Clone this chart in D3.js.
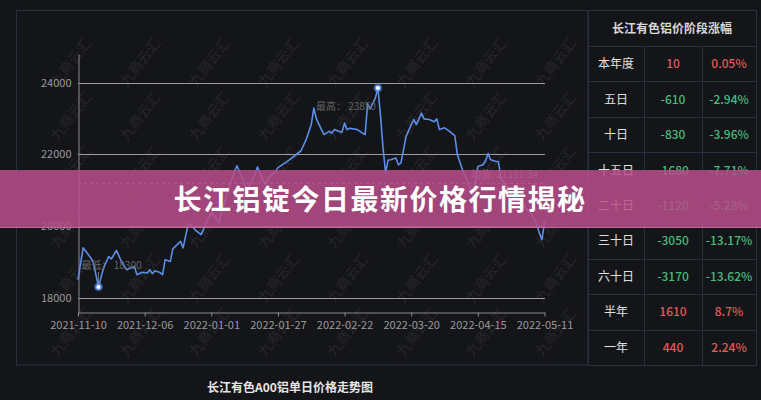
<!DOCTYPE html>
<html><head><meta charset="utf-8">
<script src="https://cdn.jsdelivr.net/npm/d3@7/dist/d3.min.js"></script>
<style>
html,body{margin:0;padding:0;background:#141518;}
svg{display:block;}
</style></head>
<body>
<svg id="c" width="761" height="400"></svg>
<script>
const dates = ["2021-11-10","2021-11-12","2021-11-15","2021-11-16","2021-11-18","2021-11-20","2021-11-22","2021-11-23","2021-11-25","2021-11-27","2021-11-29",
"2021-12-02","2021-12-03","2021-12-05","2021-12-07","2021-12-08","2021-12-09","2021-12-10","2021-12-12","2021-12-13","2021-12-14","2021-12-16","2021-12-17","2021-12-20","2021-12-21","2021-12-23","2021-12-24","2021-12-26","2021-12-28",
"2022-01-01","2022-01-04","2022-01-05","2022-01-07","2022-01-10","2022-01-11","2022-01-13","2022-01-15","2022-01-16","2022-01-18","2022-01-19","2022-01-21","2022-01-22","2022-01-24","2022-01-26","2022-01-27","2022-01-30",
"2022-02-02","2022-02-05","2022-02-07","2022-02-09","2022-02-10","2022-02-11","2022-02-13","2022-02-14","2022-02-16","2022-02-17","2022-02-18","2022-02-20","2022-02-21","2022-02-22","2022-02-23","2022-02-24","2022-02-27",
"2022-03-01","2022-03-02","2022-03-03","2022-03-04","2022-03-06","2022-03-07","2022-03-08","2022-03-09","2022-03-10","2022-03-11","2022-03-12","2022-03-14","2022-03-15","2022-03-16","2022-03-18","2022-03-20","2022-03-21","2022-03-22","2022-03-24","2022-03-25","2022-03-27","2022-03-29","2022-03-30","2022-03-31",
"2022-04-02","2022-04-04","2022-04-06","2022-04-07","2022-04-09","2022-04-11","2022-04-13","2022-04-15","2022-04-17","2022-04-18","2022-04-19","2022-04-20","2022-04-22","2022-04-23","2022-04-24","2022-04-26","2022-04-28","2022-04-30",
"2022-05-02","2022-05-04","2022-05-06","2022-05-08","2022-05-09","2022-05-10","2022-05-11"];
const prices = [18500,19390,19110,18980,18300,18840,19150,19080,19320,19000,18780,
18870,18640,18710,18690,18780,18670,18750,18700,18640,19060,19010,19360,19570,19390,20060,20040,19870,19760,
20380,20100,20370,20870,21510,21680,21350,21010,21150,21430,21650,21290,21180,21400,21510,21630,21770,
21930,22100,22410,22830,23290,22990,22690,22550,22640,22590,22690,22640,22620,22870,22690,22730,22690,
22590,22550,23410,23270,23570,23850,23100,22180,21490,21840,21850,21900,21710,21760,22500,22830,22970,22830,23150,22990,22970,22910,22990,22690,
22740,22640,22520,21990,21570,21240,20850,21660,21710,21820,22020,21850,21800,21800,21340,21110,20870,20730,
20650,20480,20320,20040,19800,19620,20110];
const yTicks = [18000,20000,22000,24000];
const xTickLabels = ["2021-11-10","2021-12-06","2022-01-01","2022-01-27","2022-02-22","2022-03-20","2022-04-15","2022-05-11"];
const chartTitle = "长江有色A00铝单日价格走势图";
const bannerText = "长江铝锭今日最新价格行情揭秘";
const watermarkText = "九商云汇";
const tableTitle = "长江有色铝价阶段涨幅";
const tablePeriods = ["本年度","五日","十日","十五日","二十日","三十日","六十日","半年","一年"];
const tableChanges = [10,-610,-830,-1680,-1120,-3050,-3170,1610,440];
const tablePercents = ["0.05%","-2.94%","-3.96%","-7.71%","-5.28%","-13.17%","-13.62%","8.7%","2.24%"];

const FONT = "'Noto Sans CJK SC','Noto Sans',sans-serif";
const svg = d3.select("#c");
const parse = d3.timeParse("%Y-%m-%d");
const data = dates.map((d,i)=>({date:parse(d), v:prices[i]}));

svg.append("rect").attr("width",761).attr("height",400).attr("fill","#141518");

const x = d3.scaleTime().domain([parse(xTickLabels[0]), parse(xTickLabels[xTickLabels.length-1])]).range([78,544.5]);
const y = d3.scaleLinear().domain([17600,24800]).range([312,54]);

// watermarks
const wmX = d3.range(8).map(i=>72+i*69.2);
const wmY = d3.range(6).map(i=>63+i*54);
const wm = svg.append("g");
wmY.forEach(yy=>wmX.forEach(xx=>{
  wm.append("text").attr("transform",`translate(${xx},${yy}) rotate(-52)`).attr("text-anchor","middle")
    .attr("dominant-baseline","middle").attr("font-size",14).attr("font-family",FONT)
    .attr("fill","#ffffff").attr("opacity",0.07).text(watermarkText);
}));

// panel border
const border = "#263140";
svg.append("rect").attr("x",16.5).attr("y",10.5).attr("width",571.5).attr("height",354.5)
  .attr("fill","none").attr("stroke",border);

// grid
svg.append("g").selectAll("line").data(yTicks).join("line")
  .attr("x1",78).attr("x2",545).attr("y1",d=>Math.round(y(d))+0.5).attr("y2",d=>Math.round(y(d))+0.5)
  .attr("stroke","#9c9c9c").attr("stroke-width",1);

// axes
const ya = svg.append("g").attr("transform","translate(78.5,0)")
  .call(d3.axisLeft(y).tickValues(yTicks).tickSize(0).tickSizeOuter(0).tickPadding(7).tickFormat(d3.format("d")));
ya.select(".domain").attr("stroke","#8a8a8a");
ya.selectAll("text").attr("fill","#9a9a9a").attr("font-size",11).attr("font-family",FONT);

const xa = svg.append("g").attr("transform","translate(0,312.5)")
  .call(d3.axisBottom(x).tickValues(xTickLabels.map(parse)).tickSize(4).tickSizeOuter(0).tickPadding(5).tickFormat(d3.timeFormat("%Y-%m-%d")));
xa.select(".domain").attr("stroke","#8a8a8a");
xa.selectAll(".tick line").attr("stroke","#8a8a8a");
xa.selectAll("text").attr("fill","#9a9a9a").attr("font-size",11).attr("font-family",FONT);

// line
const line = d3.line().x(d=>x(d.date)).y(d=>y(d.v));
svg.append("path").datum(data).attr("d",line).attr("fill","none")
  .attr("stroke","#5b8ee6").attr("stroke-width",1.6).attr("stroke-linejoin","round");

// mean
const mean = d3.mean(prices);
svg.append("line").attr("x1",78).attr("x2",545).attr("y1",y(mean)).attr("y2",y(mean))
  .attr("stroke","#c8c8c8").attr("stroke-dasharray","3,3").attr("stroke-width",1).attr("opacity",0.7);
svg.append("text").attr("x",538).attr("y",y(mean)-5).attr("text-anchor","end")
  .attr("font-size",10).attr("font-family",FONT).attr("fill","#8a8a8a").text("均值: "+mean.toFixed(2));

// max / min markers
const maxD = data.reduce((a,b)=>b.v>a.v?b:a);
const minD = data.reduce((a,b)=>b.v<a.v?b:a);
svg.append("text").attr("x",x(maxD.date)-2).attr("y",y(maxD.v)+22).attr("text-anchor","end")
  .attr("font-size",10).attr("font-family",FONT).attr("fill","#666").text("最高： "+maxD.v);
svg.append("line").attr("x1",x(minD.date)).attr("x2",x(minD.date)).attr("y1",y(minD.v)).attr("y2",y(minD.v)-15)
  .attr("stroke","#888").attr("stroke-width",0.8);
svg.append("text").attr("x",x(minD.date)-17).attr("y",y(minD.v)-18).attr("text-anchor","start")
  .attr("font-size",10).attr("font-family",FONT).attr("fill","#666").text("最低： "+minD.v);
[maxD,minD].forEach(d=>{
  svg.append("circle").attr("cx",x(d.date)).attr("cy",y(d.v)).attr("r",4.5).attr("fill","#5b8ee6").attr("opacity",0.45);
  svg.append("circle").attr("cx",x(d.date)).attr("cy",y(d.v)).attr("r",2.6).attr("fill","#ffffff").attr("stroke","#5b8ee6").attr("stroke-width",1.2);
});

// table
const tX = [588,644,702,756];
const tTop = 10, hdrB = 46, tBot = 365;
const rowH = (tBot-hdrB)/tablePeriods.length;
const tg = svg.append("g");
tg.append("rect").attr("x",tX[0]+0.5).attr("y",tTop+0.5).attr("width",tX[3]-tX[0]).attr("height",tBot-tTop)
  .attr("fill","#141518").attr("stroke",border);
d3.range(tablePeriods.length).forEach(i=>{
  const yy = Math.round(hdrB+i*rowH)+0.5;
  tg.append("line").attr("x1",tX[0]).attr("x2",tX[3]).attr("y1",yy).attr("y2",yy).attr("stroke",border);
});
[tX[1],tX[2]].forEach(xx=>tg.append("line").attr("x1",xx+0.5).attr("x2",xx+0.5).attr("y1",hdrB).attr("y2",tBot).attr("stroke",border));
tg.append("text").attr("x",(tX[0]+tX[3])/2).attr("y",(tTop+hdrB)/2+4.5).attr("text-anchor","middle")
  .attr("font-size",12).attr("font-weight","bold").attr("font-family",FONT).attr("fill","#d8d8d8").text(tableTitle);
const red="#e35b5b", green="#46bd7c";
tablePeriods.forEach((p,i)=>{
  const cy = hdrB+i*rowH+rowH/2+4.5;
  const col = tableChanges[i]>=0?red:green;
  tg.append("text").attr("x",(tX[0]+tX[1])/2).attr("y",cy).attr("text-anchor","middle")
    .attr("font-size",12).attr("font-family",FONT).attr("fill","#e0e0e0").text(p);
  tg.append("text").attr("x",(tX[1]+tX[2])/2).attr("y",cy).attr("text-anchor","middle")
    .attr("font-size",12).attr("font-weight",500).attr("font-family",FONT).attr("fill",col).text(tableChanges[i]);
  tg.append("text").attr("x",(tX[2]+tX[3])/2).attr("y",cy).attr("text-anchor","middle")
    .attr("font-size",12).attr("font-weight",500).attr("font-family",FONT).attr("fill",col).text(tablePercents[i]);
});

// bottom title
svg.append("text").attr("x",290).attr("y",392).attr("text-anchor","middle")
  .attr("font-size",12).attr("font-weight","bold").attr("font-family",FONT).attr("fill","#e6e6e6").text(chartTitle);

// banner
svg.append("rect").attr("x",0).attr("y",170).attr("width",761).attr("height",58)
  .attr("fill","rgb(186,78,140)").attr("opacity",0.85);
svg.append("line").attr("x1",0).attr("x2",761).attr("y1",227.5).attr("y2",227.5).attr("stroke","#d27fb0").attr("opacity",0.6);
svg.append("text").attr("x",380).attr("y",210).attr("text-anchor","middle")
  .attr("font-size",28).attr("font-weight","bold").attr("font-family",FONT).attr("fill","#ffffff")
  .attr("letter-spacing",1.5).text(bannerText);
</script>
</body></html>
